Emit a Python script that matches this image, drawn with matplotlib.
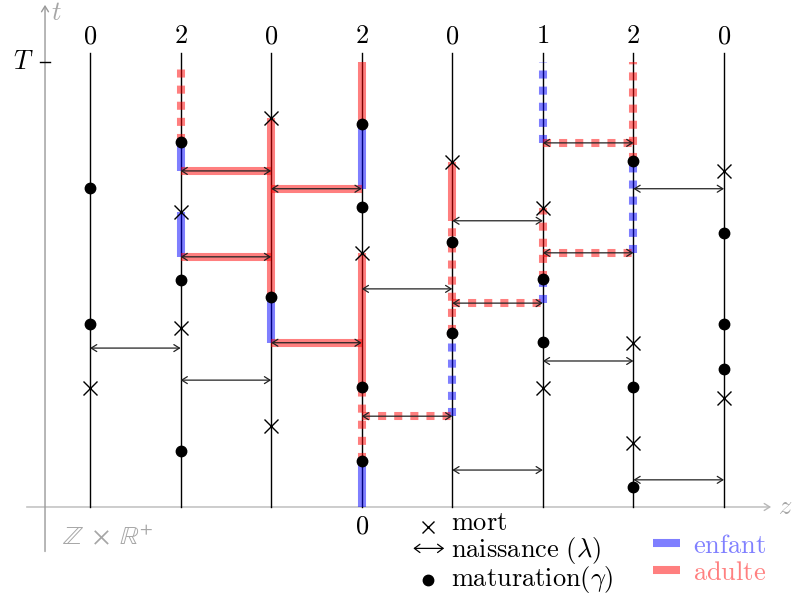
import matplotlib.pyplot as plt
from matplotlib.patches import FancyArrowPatch

plt.rcParams['mathtext.fontset'] = 'cm'

# colonnes (sites) et nombre d'individus affiche en haut
cols = [0, 1, 2, 3, 4, 5, 6, 7]
top_labels = ['0', '2', '0', '2', '0', '1', '2', '0']
T = 10.0

# morts (colonne, temps)
death_col = [0, 1, 1, 2, 2, 3, 4, 5, 5, 6, 6, 7, 7]
death_t = [2.67, 6.63, 4.02, 8.74, 1.82, 5.71, 7.75, 6.72, 2.67, 3.69, 1.44, 7.55, 2.45]

# maturations (colonne, temps)
mat_col = [0, 0, 1, 1, 1, 2, 3, 3, 3, 3, 4, 4, 5, 5, 6, 6, 6, 7, 7, 7]
mat_t = [7.17, 4.11, 8.20, 5.10, 1.26, 4.72, 8.61, 6.74, 2.70, 1.03,
         5.96, 3.91, 5.12, 3.71, 7.78, 2.70, 0.45, 6.16, 4.11, 3.10]

# naissances : de, vers, temps, surlignage ('' / 'solid' / 'dashed')
birth_from = [0, 1, 1, 1, 2, 2, 3, 3, 4, 4, 4, 5, 5, 5, 6, 6]
birth_to = [1, 2, 2, 2, 3, 3, 4, 4, 5, 5, 5, 6, 6, 6, 7, 7]
birth_t = [3.57, 7.55, 5.62, 2.85, 7.15, 3.69, 4.90, 2.04,
           6.43, 4.58, 0.83, 8.18, 5.71, 3.28, 7.15, 0.61]
birth_hl = ['', 'solid', 'solid', '', 'solid', 'solid', '', 'dashed',
            '', 'dashed', '', 'dashed', 'dashed', '', '', '']

# segments verticaux colores : colonne, debut, fin, type, style
seg_col = [1, 1, 1, 2, 2, 3, 3, 3, 3, 3, 4, 4, 4, 5, 5, 5, 6, 6]
seg_t0 = [8.20, 7.55, 5.62, 4.72, 3.69, 8.61, 7.15, 2.70, 1.03, 0.0,
          6.43, 3.91, 2.04, 8.18, 5.12, 4.58, 7.78, 5.71]
seg_t1 = [10.0, 8.20, 6.63, 8.74, 4.72, 10.0, 8.61, 5.71, 2.70, 1.03,
          7.75, 6.43, 3.91, 10.0, 6.72, 5.12, 10.0, 7.78]
seg_kind = ['adulte', 'enfant', 'enfant', 'adulte', 'enfant', 'adulte', 'enfant',
            'adulte', 'adulte', 'enfant', 'adulte', 'adulte', 'enfant',
            'enfant', 'adulte', 'enfant', 'adulte', 'enfant']
seg_style = ['dashed', 'solid', 'solid', 'solid', 'solid', 'solid', 'solid',
             'solid', 'dashed', 'solid', 'solid', 'dashed', 'dashed',
             'dashed', 'dashed', 'dashed', 'dashed', 'dashed']

colors = {'enfant': 'blue', 'adulte': 'red'}
hl_lw = 5.8


def hl(ax, xs, ys, color, style):
    ls = (0, (1, 1)) if style == 'dashed' else '-'
    ax.plot(xs, ys, color=color, alpha=0.5, lw=hl_lw, ls=ls,
            solid_capstyle='butt', dash_capstyle='butt', zorder=2)


fig = plt.figure(figsize=(7.94, 6.01), dpi=100)
ax = fig.add_axes([0, 0, 1, 1])
ax.set_xlim(-0.994, 7.773)
ax.set_ylim(-2.112, 11.39)
ax.axis('off')

gray = '#a6a6a6'
# axes
ax.add_patch(FancyArrowPatch((-0.70, 0), (7.52, 0), arrowstyle='->,head_length=4,head_width=2.5',
                             color='#b8b8b8', lw=1, shrinkA=0, shrinkB=0))
ax.add_patch(FancyArrowPatch((-0.497, -1.0), (-0.497, 11.28), arrowstyle='->,head_length=4,head_width=2.5',
                             color='#999999', lw=1, shrinkA=0, shrinkB=0))
ax.text(7.68, 0, '$z$', color=gray, fontsize=19, ha='center', va='center')
ax.text(-0.37, 11.1, '$t$', color=gray, fontsize=19, ha='center', va='center')
ax.plot([-0.55, -0.44], [T, T], color='black', lw=1)
ax.text(-0.62, T, '$T$', fontsize=19, ha='right', va='center')

# lignes verticales
for c, lab in zip(cols, top_labels):
    ax.plot([c, c], [0, 10.2], color='black', lw=1, zorder=1)
    ax.text(c, 10.58, '$' + lab + '$', fontsize=19, ha='center', va='center')
ax.text(3, -0.6, '$0$', fontsize=19, ha='center', va='baseline')
ax.text(-0.31, -0.85, r'$\mathbb{Z}\ \times\ \mathbb{R}^{+}$', color=gray, fontsize=19,
        ha='left', va='baseline', math_fontfamily='stix')

# surlignages verticaux
for c, t0, t1, k, s in zip(seg_col, seg_t0, seg_t1, seg_kind, seg_style):
    hl(ax, [c, c], [t0, t1], colors[k], s)

# naissances
for a, b, t, h in zip(birth_from, birth_to, birth_t, birth_hl):
    if h:
        hl(ax, [a, b], [t, t], 'red', h)
    ax.add_patch(FancyArrowPatch((a, t), (b, t), arrowstyle='<->,head_length=4,head_width=2.5',
                                 color='#222222', lw=0.9, shrinkA=0, shrinkB=0, zorder=3))

# morts et maturations
ax.plot(death_col, death_t, 'x', color='black', ms=10, mew=1, zorder=4)
ax.plot(mat_col, mat_t, 'o', color='black', ms=7.5, zorder=4)

# legende
ax.plot([3.73], [-0.45], 'x', color='black', ms=9, mew=1)
ax.add_patch(FancyArrowPatch((3.57, -0.93), (3.91, -0.93), arrowstyle='<->,head_length=4,head_width=3',
                             color='black', lw=0.9, shrinkA=0, shrinkB=0))
ax.plot([3.73], [-1.64], 'o', color='black', ms=7.5)
ax.text(3.99, -0.52, r'$\mathrm{mort}$', fontsize=19, ha='left', va='baseline')
ax.text(3.99, -1.12, r'$\mathrm{naissance\ (\lambda)}$', fontsize=19, ha='left', va='baseline')
ax.text(3.99, -1.78, r'$\mathrm{maturation(\gamma)}$', fontsize=19, ha='left', va='baseline')
ax.plot([6.22, 6.51], [-0.82, -0.82], color='blue', alpha=0.5, lw=hl_lw, solid_capstyle='butt')
ax.plot([6.22, 6.51], [-1.42, -1.42], color='red', alpha=0.5, lw=hl_lw, solid_capstyle='butt')
ax.text(6.66, -1.03, r'$\mathrm{enfant}$', color='#8080ff', fontsize=19, ha='left', va='baseline')
ax.text(6.66, -1.64, r'$\mathrm{adulte}$', color='#ff8080', fontsize=19, ha='left', va='baseline')

fig.savefig('out.png', dpi=100)
